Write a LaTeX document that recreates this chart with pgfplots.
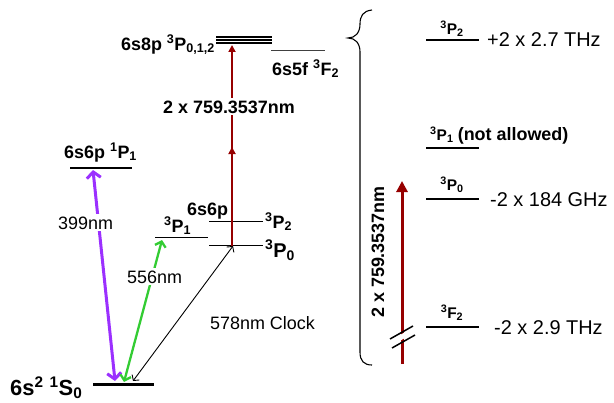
\documentclass[border=0pt]{standalone}
\usepackage{fontspec}
\setmainfont{Liberation Sans}
\usepackage{pgfplots}
\pgfplotsset{compat=1.18}
\usetikzlibrary{arrows.meta}
\definecolor{dred}{RGB}{150,0,0}
\definecolor{vio}{RGB}{155,48,255}
\definecolor{grn}{RGB}{51,204,51}
\newcommand\fs[1]{\fontsize{#1}{#1}\selectfont}
\newcommand\Sup[1]{\textsuperscript{#1}}
\newcommand\Sub[1]{\textsubscript{#1}}
\begin{document}
\begin{tikzpicture}
\begin{axis}[name=ax, scale only axis, width=614bp, height=403bp,
  xmin=0, xmax=614, ymin=0, ymax=403, y dir=reverse, hide axis, clip=false]
% ---- levels (left diagram)
\addplot[black, line width=3bp] coordinates {(93,384) (154,384)};   % 1S0
\addplot[black, line width=2.5bp] coordinates {(70,168) (132,168)}; % 1P1
\addplot[black, line width=1.3bp] coordinates {(155,237.7) (208,237.7)}; % 3P1
\addplot[black, line width=1.3bp] coordinates {(209,221.7) (263,221.7)}; % 3P2
\addplot[black, line width=1.3bp] coordinates {(209,245.7) (263,245.7)}; % 3P0
\addplot[black, line width=1.2bp] coordinates {(216,37) (272,37)};
\addplot[black, line width=1.2bp] coordinates {(216,40) (272,40)};
\addplot[black, line width=1.2bp] coordinates {(216,43) (272,43)};
\addplot[black!75, line width=0.9bp] coordinates {(271,50) (325,50)}; % 3F2
% ---- transitions
\addplot[dred, line width=2bp, -{Triangle[length=7bp,width=7bp]}] coordinates {(232,245.7) (232,147)};
\addplot[dred, line width=2bp, -{Triangle[length=7bp,width=7bp]}] coordinates {(232,150) (232,45)};
\addplot[vio, line width=3bp, {Straight Barb[length=6bp,width=14bp]}-{Straight Barb[length=6bp,width=14bp]}] coordinates {(93,170) (115,381)};
\addplot[grn, line width=2.3bp, {Straight Barb[length=5bp,width=11bp]}-{Straight Barb[length=5bp,width=11bp]}] coordinates {(162,240) (124,382)};
\addplot[black, line width=0.9bp, {Straight Barb[length=4bp,width=9bp]}-{Straight Barb[length=4bp,width=9bp]}] coordinates {(233,246) (133,381)};
% ---- right diagram
\addplot[black, line width=1.2bp] coordinates {(426,40) (479,40)};
\addplot[black, line width=1.2bp] coordinates {(426,148) (479,148)};
\addplot[black, line width=1.2bp] coordinates {(426,199) (479,199)};
\addplot[black, line width=1.2bp] coordinates {(426,327) (479,327)};
\addplot[dred, line width=3bp, -{Triangle[length=11bp,width=11bp]}] coordinates {(402,364) (402,181)};
\addplot[white, line width=5bp] coordinates {(391,343) (414,330)};
\addplot[black, line width=1.5bp] coordinates {(390,339) (413,326)};
\addplot[black, line width=1.5bp] coordinates {(392,348) (415,335)};
\draw[black, line width=1.1bp] (372,10) .. controls (363,11) and (360,16) .. (360,24)
  .. controls (360,33) and (355,38) .. (348,38)
  .. controls (355,38) and (360,43) .. (360,52)
  -- (360,352) .. controls (360,361) and (364,365) .. (372,365);
% ---- labels
\node[anchor=base east, font=\bfseries\fs{18}, inner sep=0pt] at (215,50) {6s8p \Sup{3}P\Sub{0,1,2}};
\node[anchor=base west, font=\bfseries\fs{18}, inner sep=0pt] at (272,75) {6s5f \Sup{3}F\Sub{2}};
\node[anchor=base, font=\bfseries\fs{18}, fill=white, inner sep=2bp] at (229,113) {2 x 759.3537nm};
\node[anchor=base west, font=\bfseries\fs{18}, inner sep=0pt] at (64,158) {6s6p \Sup{1}P\Sub{1}};
\node[anchor=base west, font=\fs{18}, fill=white, inner sep=2bp] at (56,229) {399nm};
\node[anchor=base west, font=\bfseries\fs{18}, inner sep=0pt] at (187,215) {6s6p};
\node[anchor=base west, font=\bfseries\fs{18}, inner sep=0pt] at (164,232) {\Sup{3}P\Sub{1}};
\node[anchor=base west, font=\bfseries\fs{18}, inner sep=0pt] at (265,228) {\Sup{3}P\Sub{2}};
\node[anchor=base west, font=\bfseries\fs{20}, inner sep=0pt] at (265,257) {\Sup{3}P\Sub{0}};
\node[anchor=base west, font=\fs{18}, fill=white, inner sep=2bp] at (125,283) {556nm};
\node[anchor=base west, font=\fs{18}, inner sep=0pt] at (210,329) {578nm Clock};
\node[anchor=base west, font=\bfseries\fs{22}, inner sep=0pt] at (10,395) {6s\Sup{2} \Sup{1}S\Sub{0}};
% right
\node[anchor=base, font=\bfseries\fs{15.5}, inner sep=0pt] at (452,34) {\Sup{3}P\Sub{2}};
\node[anchor=base west, font=\fs{20}, inner sep=0pt] at (487,46) {+2 x 2.7 THz};
\node[anchor=base west, font=\bfseries\fs{15.5}, inner sep=0pt] at (430,140) {\Sup{3}P\Sub{1} {\fs{18}(not allowed)}};
\node[anchor=base, font=\bfseries\fs{15.5}, inner sep=0pt] at (452,190) {\Sup{3}P\Sub{0}};
\node[anchor=base west, font=\fs{20}, inner sep=0pt] at (490,206) {-2 x 184 GHz};
\node[anchor=base, font=\bfseries\fs{15.5}, inner sep=0pt] at (452,318) {\Sup{3}F\Sub{2}};
\node[anchor=base west, font=\fs{20}, inner sep=0pt] at (494,334) {-2 x 2.9 THz};
\node[rotate=90, font=\bfseries\fs{18}, inner sep=0pt] at (378,252) {2 x 759.3537nm};
\end{axis}
\pgfresetboundingbox
\useasboundingbox (ax.south west) rectangle (ax.north east);
\end{tikzpicture}
\end{document}
